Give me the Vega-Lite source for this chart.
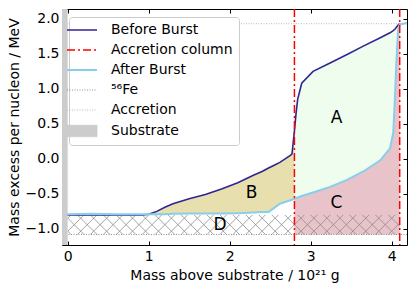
{
  "$schema": "https://vega.github.io/schema/vega-lite/v6.json",
  "autosize": {"type": "none"},
  "padding": {"left": 62, "top": 9, "right": 8, "bottom": 46},
  "width": 345,
  "height": 236,
  "config": {
    "view": {"stroke": "#000000", "strokeWidth": 1},
    "font": "DejaVu Sans",
    "axis": {"labelFont": "DejaVu Sans", "titleFont": "DejaVu Sans", "labelFontSize": 14, "titleFontSize": 14, "titleFontWeight": "normal", "labelColor": "#000000", "titleColor": "#000000", "tickColor": "#000000", "grid": false, "domain": false, "labelFlush": false}
  },
  "datasets": {
    "profile": [
      {"mass": 0.0, "before": -0.8, "after": -0.79},
      {"mass": 0.3, "before": -0.8, "after": -0.785},
      {"mass": 0.6, "before": -0.8, "after": -0.79},
      {"mass": 0.93, "before": -0.8, "after": -0.79},
      {"mass": 1.0, "before": -0.79, "after": -0.79},
      {"mass": 1.1, "before": -0.75, "after": -0.79},
      {"mass": 1.2, "before": -0.69, "after": -0.79},
      {"mass": 1.3, "before": -0.64, "after": -0.785},
      {"mass": 1.5, "before": -0.57, "after": -0.78},
      {"mass": 1.7, "before": -0.51, "after": -0.78},
      {"mass": 1.9, "before": -0.43, "after": -0.78},
      {"mass": 2.1, "before": -0.34, "after": -0.775},
      {"mass": 2.3, "before": -0.23, "after": -0.765},
      {"mass": 2.4, "before": -0.18, "after": -0.76},
      {"mass": 2.48, "before": -0.13, "after": -0.76},
      {"mass": 2.55, "before": -0.09, "after": -0.7},
      {"mass": 2.62, "before": -0.05, "after": -0.64},
      {"mass": 2.75, "before": 0.05, "after": -0.59},
      {"mass": 2.77, "before": 0.07, "after": -0.585},
      {"mass": 2.8, "before": 0.4, "after": -0.57},
      {"mass": 2.82, "before": 0.65, "after": -0.56},
      {"mass": 2.84, "before": 0.85, "after": -0.55},
      {"mass": 2.89, "before": 1.08, "after": -0.53},
      {"mass": 3.03, "before": 1.25, "after": -0.48},
      {"mass": 3.24, "before": 1.37, "after": -0.4},
      {"mass": 3.45, "before": 1.49, "after": -0.3},
      {"mass": 3.65, "before": 1.61, "after": -0.18},
      {"mass": 3.86, "before": 1.73, "after": -0.02},
      {"mass": 3.98, "before": 1.8, "after": 0.15},
      {"mass": 4.02, "before": 1.83, "after": 0.37},
      {"mass": 4.04, "before": 1.85, "after": 0.84},
      {"mass": 4.06, "before": 1.88, "after": 1.41},
      {"mass": 4.08, "before": 1.91, "after": 1.84},
      {"mass": 4.1, "before": 1.93, "after": 1.92},
      {"mass": 4.19, "before": null, "after": 1.94}
    ],
    "hatch": [
      {"x": 0, "y": -0.849, "x2": 0.042, "y2": -0.8},
      {"x": 0, "y": -1.034, "x2": 0.202, "y2": -0.8},
      {"x": 0.12, "y": -1.08, "x2": 0.362, "y2": -0.8},
      {"x": 0.28, "y": -1.08, "x2": 0.522, "y2": -0.8},
      {"x": 0.44, "y": -1.08, "x2": 0.682, "y2": -0.8},
      {"x": 0.6, "y": -1.08, "x2": 0.842, "y2": -0.8},
      {"x": 0.76, "y": -1.08, "x2": 1.002, "y2": -0.8},
      {"x": 0.92, "y": -1.08, "x2": 1.162, "y2": -0.8},
      {"x": 1.08, "y": -1.08, "x2": 1.322, "y2": -0.8},
      {"x": 1.24, "y": -1.08, "x2": 1.482, "y2": -0.8},
      {"x": 1.4, "y": -1.08, "x2": 1.642, "y2": -0.8},
      {"x": 1.56, "y": -1.08, "x2": 1.802, "y2": -0.8},
      {"x": 1.72, "y": -1.08, "x2": 1.962, "y2": -0.8},
      {"x": 1.88, "y": -1.08, "x2": 2.122, "y2": -0.8},
      {"x": 2.04, "y": -1.08, "x2": 2.282, "y2": -0.8},
      {"x": 2.2, "y": -1.08, "x2": 2.442, "y2": -0.8},
      {"x": 2.36, "y": -1.08, "x2": 2.602, "y2": -0.8},
      {"x": 2.52, "y": -1.08, "x2": 2.762, "y2": -0.8},
      {"x": 2.68, "y": -1.08, "x2": 2.922, "y2": -0.8},
      {"x": 2.84, "y": -1.08, "x2": 3.082, "y2": -0.8},
      {"x": 3.0, "y": -1.08, "x2": 3.242, "y2": -0.8},
      {"x": 3.16, "y": -1.08, "x2": 3.402, "y2": -0.8},
      {"x": 3.32, "y": -1.08, "x2": 3.562, "y2": -0.8},
      {"x": 3.48, "y": -1.08, "x2": 3.722, "y2": -0.8},
      {"x": 3.64, "y": -1.08, "x2": 3.882, "y2": -0.8},
      {"x": 3.8, "y": -1.08, "x2": 4.042, "y2": -0.8},
      {"x": 3.96, "y": -1.08, "x2": 4.1, "y2": -0.918},
      {"x": 0, "y": -1.031, "x2": 0.042, "y2": -1.08},
      {"x": 0, "y": -0.846, "x2": 0.202, "y2": -1.08},
      {"x": 0.12, "y": -0.8, "x2": 0.362, "y2": -1.08},
      {"x": 0.28, "y": -0.8, "x2": 0.522, "y2": -1.08},
      {"x": 0.44, "y": -0.8, "x2": 0.682, "y2": -1.08},
      {"x": 0.6, "y": -0.8, "x2": 0.842, "y2": -1.08},
      {"x": 0.76, "y": -0.8, "x2": 1.002, "y2": -1.08},
      {"x": 0.92, "y": -0.8, "x2": 1.162, "y2": -1.08},
      {"x": 1.08, "y": -0.8, "x2": 1.322, "y2": -1.08},
      {"x": 1.24, "y": -0.8, "x2": 1.482, "y2": -1.08},
      {"x": 1.4, "y": -0.8, "x2": 1.642, "y2": -1.08},
      {"x": 1.56, "y": -0.8, "x2": 1.802, "y2": -1.08},
      {"x": 1.72, "y": -0.8, "x2": 1.962, "y2": -1.08},
      {"x": 1.88, "y": -0.8, "x2": 2.122, "y2": -1.08},
      {"x": 2.04, "y": -0.8, "x2": 2.282, "y2": -1.08},
      {"x": 2.2, "y": -0.8, "x2": 2.442, "y2": -1.08},
      {"x": 2.36, "y": -0.8, "x2": 2.602, "y2": -1.08},
      {"x": 2.52, "y": -0.8, "x2": 2.762, "y2": -1.08},
      {"x": 2.68, "y": -0.8, "x2": 2.922, "y2": -1.08},
      {"x": 2.84, "y": -0.8, "x2": 3.082, "y2": -1.08},
      {"x": 3.0, "y": -0.8, "x2": 3.242, "y2": -1.08},
      {"x": 3.16, "y": -0.8, "x2": 3.402, "y2": -1.08},
      {"x": 3.32, "y": -0.8, "x2": 3.562, "y2": -1.08},
      {"x": 3.48, "y": -0.8, "x2": 3.722, "y2": -1.08},
      {"x": 3.64, "y": -0.8, "x2": 3.882, "y2": -1.08},
      {"x": 3.8, "y": -0.8, "x2": 4.042, "y2": -1.08},
      {"x": 3.96, "y": -0.8, "x2": 4.1, "y2": -0.962}
    ],
    "refs": [
      {"name": "⁵⁶Fe", "excess": -1.08},
      {"name": "Accretion", "excess": 1.93}
    ],
    "column": [{"mass": 2.8}, {"mass": 4.1}],
    "substrate": [{"start": -0.07, "end": 0}],
    "labels": [
      {"mass": 3.32, "excess": 0.58, "label": "A"},
      {"mass": 2.27, "excess": -0.49, "label": "B"},
      {"mass": 3.32, "excess": -0.63, "label": "C"},
      {"mass": 1.88, "excess": -0.94, "label": "D"}
    ]
  },
  "resolve": {"axis": {"x": "independent", "y": "independent"}},
  "layer": [
    {
      "data": {"name": "profile"},
      "transform": [{"filter": "datum.mass >= 0.93 && datum.mass <= 2.8"}],
      "mark": {"type": "area", "color": "#e8dfaf", "opacity": 1},
      "encoding": {
        "x": {"field": "mass", "type": "quantitative", "scale": {"domain": [-0.07, 4.19], "nice": false, "zero": false},
          "axis": {"orient": "bottom", "values": [0, 1, 2, 3, 4], "format": "d", "title": "Mass above substrate / 10²¹ g", "tickSize": -4, "labelPadding": 8, "titlePadding": 5}},
        "y": {"field": "before", "type": "quantitative", "scale": {"domain": [-1.23, 2.14], "nice": false, "zero": false},
          "axis": {"orient": "left", "values": [-1, -0.5, 0, 0.5, 1, 1.5, 2], "format": ".1f", "title": "Mass excess per nucleon / MeV", "tickSize": -4, "labelPadding": 7, "titlePadding": 4}},
        "y2": {"field": "after"}
      }
    },
    {
      "data": {"name": "profile"},
      "transform": [{"filter": "datum.mass >= 2.8 && datum.mass <= 4.1"}],
      "mark": {"type": "area", "color": "#effdef", "opacity": 1},
      "encoding": {
        "x": {"field": "mass", "type": "quantitative",
          "axis": {"orient": "top", "values": [0, 1, 2, 3, 4], "labels": false, "title": null, "tickSize": -4}},
        "y": {"field": "before", "type": "quantitative",
          "axis": {"orient": "right", "values": [-1, -0.5, 0, 0.5, 1, 1.5, 2], "labels": false, "title": null, "tickSize": -4}},
        "y2": {"field": "after"}
      }
    },
    {
      "data": {"name": "profile"},
      "transform": [{"filter": "datum.mass >= 2.8 && datum.mass <= 4.1"}],
      "mark": {"type": "area", "color": "#e8c3ca", "opacity": 1},
      "encoding": {
        "x": {"field": "mass", "type": "quantitative", "axis": null},
        "y": {"field": "after", "type": "quantitative", "axis": null},
        "y2": {"datum": -1.08}
      }
    },
    {
      "data": {"name": "hatch"},
      "mark": {"type": "rule", "color": "#8c8c8c", "strokeWidth": 0.8},
      "encoding": {
        "x": {"field": "x", "type": "quantitative", "axis": null},
        "y": {"field": "y", "type": "quantitative", "axis": null},
        "x2": {"field": "x2"},
        "y2": {"field": "y2"}
      }
    },
    {
      "data": {"name": "refs"},
      "transform": [{"filter": "datum.name === '⁵⁶Fe'"}],
      "mark": {"type": "rule", "strokeDash": [1, 1.5], "strokeWidth": 0.8},
      "encoding": {
        "y": {"field": "excess", "type": "quantitative", "axis": null},
        "color": {"datum": "⁵⁶Fe", "type": "nominal"}
      }
    },
    {
      "data": {"name": "refs"},
      "transform": [{"filter": "datum.name === 'Accretion'"}],
      "mark": {"type": "rule", "strokeDash": [1, 1.5], "strokeWidth": 0.8},
      "encoding": {
        "y": {"field": "excess", "type": "quantitative", "axis": null},
        "color": {"datum": "Accretion", "type": "nominal"}
      }
    },
    {
      "data": {"name": "substrate"},
      "mark": {"type": "rect", "clip": true, "opacity": 1},
      "encoding": {
        "x": {"field": "start", "type": "quantitative", "axis": null},
        "x2": {"field": "end"},
        "color": {"datum": "Substrate", "type": "nominal"}
      }
    },
    {
      "data": {"name": "profile"},
      "mark": {"type": "line", "strokeWidth": 1.6},
      "encoding": {
        "x": {"field": "mass", "type": "quantitative", "axis": null},
        "y": {"field": "before", "type": "quantitative", "axis": null},
        "color": {"datum": "Before Burst", "type": "nominal",
          "scale": {"domain": ["Before Burst", "Accretion column", "After Burst", "⁵⁶Fe", "Accretion", "Substrate"],
                    "range": ["#2f2590", "#ff0000", "#87ceeb", "#777777", "#aaaaaa", "#cccccc"]},
          "legend": {
            "title": null, "orient": "none", "legendX": 7, "legendY": 8,
            "symbolType": "stroke", "symbolSize": 900, "symbolStrokeWidth": 1.5,
            "labelFontSize": 14, "labelFont": "DejaVu Sans", "labelColor": "#000000", "labelOffset": 22, "labelLimit": 0,
            "rowPadding": 6, "padding": 6, "fillColor": "#ffffff", "strokeColor": "#cccccc", "cornerRadius": 3,
            "encode": {"symbols": {"update": {
              "shape": {"signal": "datum.value === 'Substrate' ? 'M-1,-0.38L1,-0.38L1,0.38L-1,0.38Z' : 'stroke'"},
              "fill": {"signal": "datum.value === 'Substrate' ? '#cccccc' : 'transparent'"},
              "stroke": {"signal": "datum.value === 'Substrate' ? 'transparent' : scale('color', datum.value)"},
              "strokeDash": {"signal": "datum.value === 'Accretion column' ? [8, 3, 2, 3] : ((datum.value === '⁵⁶Fe' || datum.value === 'Accretion') ? [1, 1.5] : [])"},
              "strokeWidth": {"signal": "datum.value === 'After Burst' ? 2 : ((datum.value === 'Before Burst' || datum.value === 'Accretion column') ? 1.5 : 0.8)"},
              "opacity": {"value": 1}
            }}}
          }}
      }
    },
    {
      "data": {"name": "profile"},
      "mark": {"type": "line", "strokeWidth": 2},
      "encoding": {
        "x": {"field": "mass", "type": "quantitative", "axis": null},
        "y": {"field": "after", "type": "quantitative", "axis": null},
        "color": {"datum": "After Burst", "type": "nominal"}
      }
    },
    {
      "data": {"name": "column"},
      "mark": {"type": "rule", "strokeDash": [8, 3, 2, 3], "strokeWidth": 1.5},
      "encoding": {
        "x": {"field": "mass", "type": "quantitative", "axis": null},
        "color": {"datum": "Accretion column", "type": "nominal"}
      }
    },
    {
      "data": {"name": "labels"},
      "mark": {"type": "text", "font": "DejaVu Sans", "fontSize": 17, "color": "#000000", "align": "center", "baseline": "middle"},
      "encoding": {
        "x": {"field": "mass", "type": "quantitative", "axis": null},
        "y": {"field": "excess", "type": "quantitative", "axis": null},
        "text": {"field": "label"}
      }
    }
  ]
}
